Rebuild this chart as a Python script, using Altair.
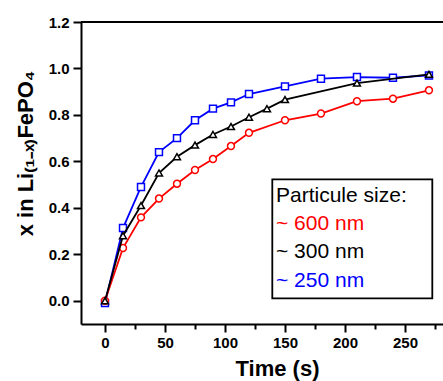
import altair as alt
import pandas as pd

# ---- data ----
series_names = ["~ 600 nm", "~ 300 nm", "~ 250 nm"]
series_colors = ["#ff0000", "#000000", "#0000ff"]
series_shapes = ["circle", "triangle-up", "square"]

t_600 = [0, 15, 30, 45, 60, 75, 90, 105, 120, 150, 180, 210, 240, 270]
x_600 = [0.0, 0.227, 0.359, 0.44, 0.504, 0.563, 0.61, 0.666, 0.723, 0.777, 0.806, 0.859, 0.87, 0.906]

t_300 = [0, 15, 30, 45, 60, 75, 90, 105, 120, 135, 150, 210, 270]
x_300 = [0.0, 0.28, 0.41, 0.55, 0.62, 0.67, 0.716, 0.75, 0.79, 0.827, 0.866, 0.937, 0.975]

t_250 = [0, 15, 30, 45, 60, 75, 90, 105, 120, 150, 180, 210, 240, 270]
x_250 = [-0.01, 0.313, 0.49, 0.64, 0.70, 0.777, 0.827, 0.854, 0.89, 0.923, 0.956, 0.963, 0.96, 0.97]

x_ticks = [0, 25, 50, 75, 100, 125, 150, 175, 200, 225, 250, 275]
y_ticks = [0.0, 0.1, 0.2, 0.3, 0.4, 0.5, 0.6, 0.7, 0.8, 0.9, 1.0, 1.1, 1.2]
x_domain = [-20, 281.7]
y_domain = [-0.1, 1.2]

legend_title = "Particule size:"
x_title = "Time (s)"
y_title = "x in Li\u208d\u2081\u208b\u2093\u208eFePO\u2084"

FONT = "Liberation Sans"

# ---- build table ----
rows = []
for name, ts, xs in [(series_names[2], t_250, x_250),
                     (series_names[0], t_600, x_600),
                     (series_names[1], t_300, x_300)]:
    for t, v in zip(ts, xs):
        rows.append({"series": name, "t": t, "x": v})
df = pd.DataFrame(rows)

color_scale = alt.Scale(domain=series_names, range=series_colors)
shape_scale = alt.Scale(domain=series_names, range=series_shapes)

x_axis = alt.Axis(
    values=x_ticks,
    labelExpr="datum.value % 50 == 0 ? datum.label : ''",
    tickSize={"condition": {"test": "datum.value % 50 == 0", "value": 8}, "value": 5},
    format="d",
    title=x_title,
    titleX=196, titleY=51, titleAlign="center", titleBaseline="alphabetic",
    titleFontSize=22,
    labelPadding=3,
)
y_axis = alt.Axis(
    values=y_ticks,
    labelExpr="round(datum.value * 10) % 2 == 0 ? datum.label : ''",
    tickSize={"condition": {"test": "round(datum.value * 10) % 2 == 0", "value": 8}, "value": 5},
    format=".1f",
    title=y_title,
    titleAngle=270, titleX=-49, titleY=131, titleAlign="center", titleBaseline="alphabetic",
    titleFontSize=22,
    labelPadding=4,
)

X = alt.X("t:Q", scale=alt.Scale(domain=x_domain, nice=False, zero=False), axis=x_axis)
Y = alt.Y("x:Q", scale=alt.Scale(domain=y_domain, nice=False, zero=False), axis=y_axis)

base = alt.Chart(df)
layers = []
for name in [series_names[2], series_names[0], series_names[1]]:
    sub = base.transform_filter(alt.datum.series == name)
    layers.append(
        sub.mark_line(strokeWidth=1.8, clip=True).encode(
            x=X, y=Y, color=alt.Color("series:N", scale=color_scale, legend=None)
        )
    )
    layers.append(
        sub.mark_point(fill="white", fillOpacity=1, opacity=1, strokeWidth=1.5, size=48, clip=True).encode(
            x=X, y=Y,
            stroke=alt.Stroke("series:N", scale=color_scale, legend=None),
            shape=alt.Shape("series:N", scale=shape_scale, legend=None),
        )
    )

# top frame line at y = 1.2
top_line = alt.Chart(pd.DataFrame({"y": [y_domain[1]]})).mark_rule(
    strokeWidth=2, color="black"
).encode(y=alt.Y("y:Q"))
layers.append(top_line)

# legend box
legend_box = alt.Chart(pd.DataFrame({"a": [0]})).mark_rect(
    fill="white", stroke="black", strokeWidth=1.8
).encode(x=alt.value(191.3), x2=alt.value(351.3), y=alt.value(157.3), y2=alt.value(276.3))
layers.append(legend_box)

legend_rows = [(legend_title, "#000000", 179.7)] + [
    (n, c, yy) for n, c, yy in zip(series_names, series_colors, [208.0, 236.3, 264.7])
]
for label, col, yy in legend_rows:
    layers.append(
        alt.Chart(pd.DataFrame({"label": [label]})).mark_text(
            align="left", baseline="alphabetic", fontSize=21, font=FONT, color=col
        ).encode(x=alt.value(195), y=alt.value(yy), text="label:N")
    )

chart = alt.layer(*layers).properties(
    width=362, height=302,
    autosize=alt.AutoSizeParams(type="none"),
    padding={"left": 81, "top": 22, "right": 0, "bottom": 57},
).configure_view(stroke=None).configure_axis(
    grid=False,
    domainColor="black", domainWidth=2,
    tickColor="black", tickWidth=2,
    labelFont=FONT, labelFontWeight="bold", labelFontSize=15, labelColor="black",
    titleFont=FONT, titleFontWeight="bold", titleFontSize=20, titleColor="black",
)

chart.save("out.html", embed_options={"renderer": "svg", "actions": False})
